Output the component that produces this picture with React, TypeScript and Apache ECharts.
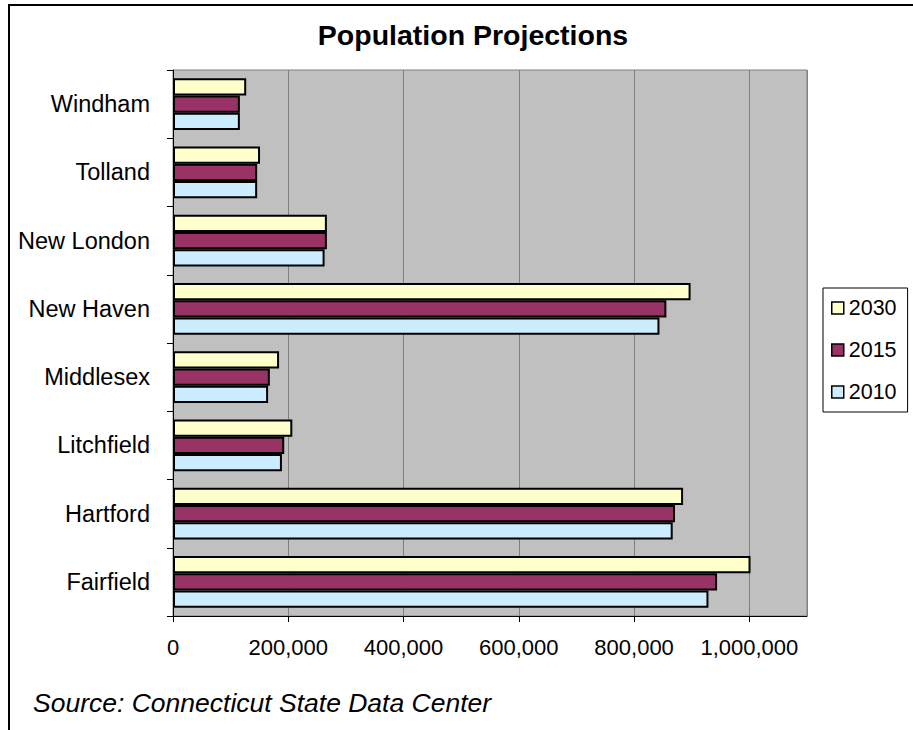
import React, { useEffect, useRef } from "react";
import * as echarts from "echarts";

const counties = ["Fairfield", "Hartford", "Litchfield", "Middlesex", "New Haven", "New London", "Tolland", "Windham"];
const years = ["2030", "2015", "2010"];
const pop2030 = [1002000, 885000, 207000, 184000, 898000, 267000, 151000, 127000];
const pop2015 = [944000, 871000, 193000, 168000, 856000, 267000, 146000, 116000];
const pop2010 = [929000, 867000, 189000, 165000, 844000, 263000, 146000, 116000];
const xTicks = [0, 200000, 400000, 600000, 800000, 1000000];
const colors = ["#FFFFCC", "#993366", "#CCECFF"];

const FONT = "'Liberation Sans', Arial, sans-serif";

export default function App() {
  const ref = useRef<HTMLDivElement>(null);
  useEffect(() => {
    if (!ref.current) return;
    const chart = echarts.init(ref.current, null, { renderer: "svg" });
    const seriesData = [pop2030, pop2015, pop2010];
    chart.setOption({
      animation: false,
      backgroundColor: "#ffffff",
      textStyle: { fontFamily: FONT, color: "#000" },
      title: {
        text: "Population Projections",
        left: 468,
        textAlign: "center",
        top: 15,
        textStyle: { fontFamily: FONT, fontSize: 28.5, fontWeight: "bold", color: "#000" },
      },
      graphic: [
        {
          type: "rect",
          shape: { x: 9, y: 5, width: 1000, height: 1000 },
          style: { fill: "none", stroke: "#000", lineWidth: 2 },
          silent: true,
          z: -1,
        },
        {
          type: "text",
          left: 33,
          top: 689,
          style: {
            text: "Source: Connecticut State Data Center",
            font: `italic 26.5px ${FONT}`,
            fill: "#000",
          },
        },
      ],
      legend: {
        orient: "vertical",
        left: 823,
        top: 288,
        padding: [9, 11, 9, 8],
        borderColor: "#000",
        borderWidth: 1,
        itemWidth: 12,
        itemHeight: 12,
        itemGap: 20,
        itemTextGap: 10,
        icon: "rect",
        data: years,
        itemStyle: { borderColor: "#000", borderWidth: 1.5 },
        textStyle: { fontFamily: FONT, fontSize: 21.5, lineHeight: 21, color: "#000" },
      },
      grid: {
        left: 173,
        top: 70,
        right: 106,
        bottom: 114,
        show: true,
        backgroundColor: "#C0C0C0",
        borderColor: "#808080",
        borderWidth: 1,
      },
      xAxis: {
        type: "value",
        min: 0,
        max: 1100000,
        interval: 200000,
        axisLine: { show: true, lineStyle: { color: "#000", width: 1 } },
        axisTick: { show: true, length: 6, lineStyle: { color: "#000" } },
        splitLine: { show: true, lineStyle: { color: "#808080", width: 1 } },
        axisLabel: {
          margin: 20,
          fontFamily: FONT,
          fontSize: 22,
          color: "#000",
          showMaxLabel: false,
          formatter: (v: number) => (xTicks.includes(v) ? v.toLocaleString("en-US") : ""),
        },
      },
      yAxis: {
        type: "category",
        data: counties,
        axisLine: { show: true, lineStyle: { color: "#000", width: 1 } },
        axisTick: { show: true, length: 6, lineStyle: { color: "#000" } },
        splitLine: { show: false },
        axisLabel: { margin: 23, fontFamily: FONT, fontSize: 23.5, color: "#000" },
      },
      series: years.map((y, i) => ({
        name: y,
        type: "bar",
        data: seriesData[i],
        barGap: "0%",
        barCategoryGap: "24%",
        itemStyle: { color: colors[i], borderColor: "#000", borderWidth: 2 },
      })),
    });
    return () => chart.dispose();
  }, []);
  return (
    <div
      ref={ref}
      style={{ position: "absolute", left: 0, top: 0, width: 913, height: 730 }}
    />
  );
}
